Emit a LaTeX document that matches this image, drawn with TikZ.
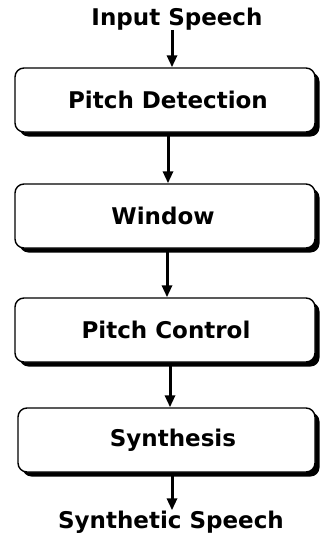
\documentclass[tikz,border=0pt]{standalone}
\usepackage{fontspec}
\setmainfont{DejaVu Sans}
\usetikzlibrary{arrows.meta,shadows}
\tikzset{
  stage/.style={draw=black, fill=white, line width=1.4pt, rounded corners=9pt,
    minimum width=300pt, minimum height=64pt, inner sep=0pt,
    drop shadow={shadow xshift=4.5pt, shadow yshift=-4.5pt, opacity=1, fill=black}},
  lbl/.style={font=\bfseries\fontsize{23}{27}\selectfont, inner sep=0pt},
  arr/.style={line width=3pt, -{Triangle[width=10pt,length=12pt]}}
}
\begin{document}
\begin{tikzpicture}[x=1pt,y=-1pt]
\useasboundingbox (0,0) rectangle (322,536);
\node[lbl, anchor=base] (in) at (177,25) {Input Speech};
\node[stage] (b1) at (165,100) {};
\node[lbl] at (168,100) {Pitch Detection};
\node[stage] (b2) at (165,216) {};
\node[lbl] at (163,216) {Window};
\node[stage] (b3) at (165,330) {};
\node[lbl] at (166,330) {Pitch Control};
\node[stage, minimum width=297pt] (b4) at (166.5,440) {};
\node[lbl] at (173,440) {Synthesis};
\node[lbl, anchor=base] (out) at (171,528) {Synthetic Speech};
\draw[arr] (172,0 |- in.south) -- (172,0 |- b1.north);
\draw[arr] (168,0 |- b1.south) -- (168,0 |- b2.north);
\draw[arr] (167,0 |- b2.south) -- (167,0 |- b3.north);
\draw[arr] (170,0 |- b3.south) -- (170,0 |- b4.north);
\draw[arr] (172,0 |- b4.south) -- (172,0 |- out.north);
\end{tikzpicture}
\end{document}
